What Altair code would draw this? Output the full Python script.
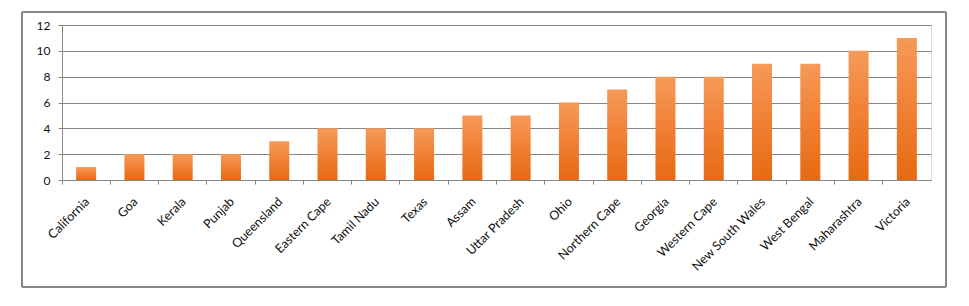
import altair as alt
import pandas as pd

categories = ["California", "Goa", "Kerala", "Punjab", "Queensland", "Eastern Cape",
              "Tamil Nadu", "Texas", "Assam", "Uttar Pradesh", "Ohio", "Northern Cape",
              "Georgia", "Western Cape", "New South Wales", "West Bengal", "Maharashtra",
              "Victoria"]
values = [1, 2, 2, 2, 3, 4, 4, 4, 5, 5, 6, 7, 8, 8, 9, 9, 10, 11]
y_ticks = [0, 2, 4, 6, 8, 10, 12]

df = pd.DataFrame({"state": categories, "count": values})

FONT = "Lato"
GRID = "#868686"

grad = alt.Gradient(
    gradient="linear",
    stops=[alt.GradientStop(color="#F59A58", offset=0),
           alt.GradientStop(color="#F08034", offset=0.5),
           alt.GradientStop(color="#E66A12", offset=1)],
    x1=0, x2=0, y1=0, y2=1,
)

bars = alt.Chart(df).mark_bar(color=grad, width=20).encode(
    x=alt.X("state:N", sort=categories, title=None,
            scale=alt.Scale(paddingInner=0, paddingOuter=0),
            axis=alt.Axis(labelAngle=-45, labelAlign="right", labelBaseline="top",
                          labelPadding=11, labelFont=FONT, labelFontSize=12.5,
                          labelColor="#111111", bandPosition=0, ticks=True,
                          tickSize=4, tickColor=GRID, domainColor=GRID,
                          labelOffset=-3, labelLimit=200)),
    y=alt.Y("count:Q", title=None,
            scale=alt.Scale(domain=[0, 12]),
            axis=alt.Axis(values=y_ticks, labelFont=FONT, labelFontSize=12,
                          labelColor="#111111", tickSize=4, tickColor=GRID,
                          domainColor=GRID, gridColor=GRID, labelPadding=8)),
)

border = alt.Chart(df).mark_rect(fill=None, stroke=GRID, strokeWidth=1).encode(
    x=alt.value(-40), x2=alt.value(884), y=alt.value(-13), y2=alt.value(262)
)

chart = alt.layer(border, bars).properties(
    width=869, height=155,
    autosize=alt.AutoSizeParams(type="none"),
    padding={"left": 62, "top": 25, "right": 38, "bottom": 126},
).configure_view(stroke=None).configure(background="white")

chart.save("out.html", embed_options={"renderer": "svg", "actions": False})
